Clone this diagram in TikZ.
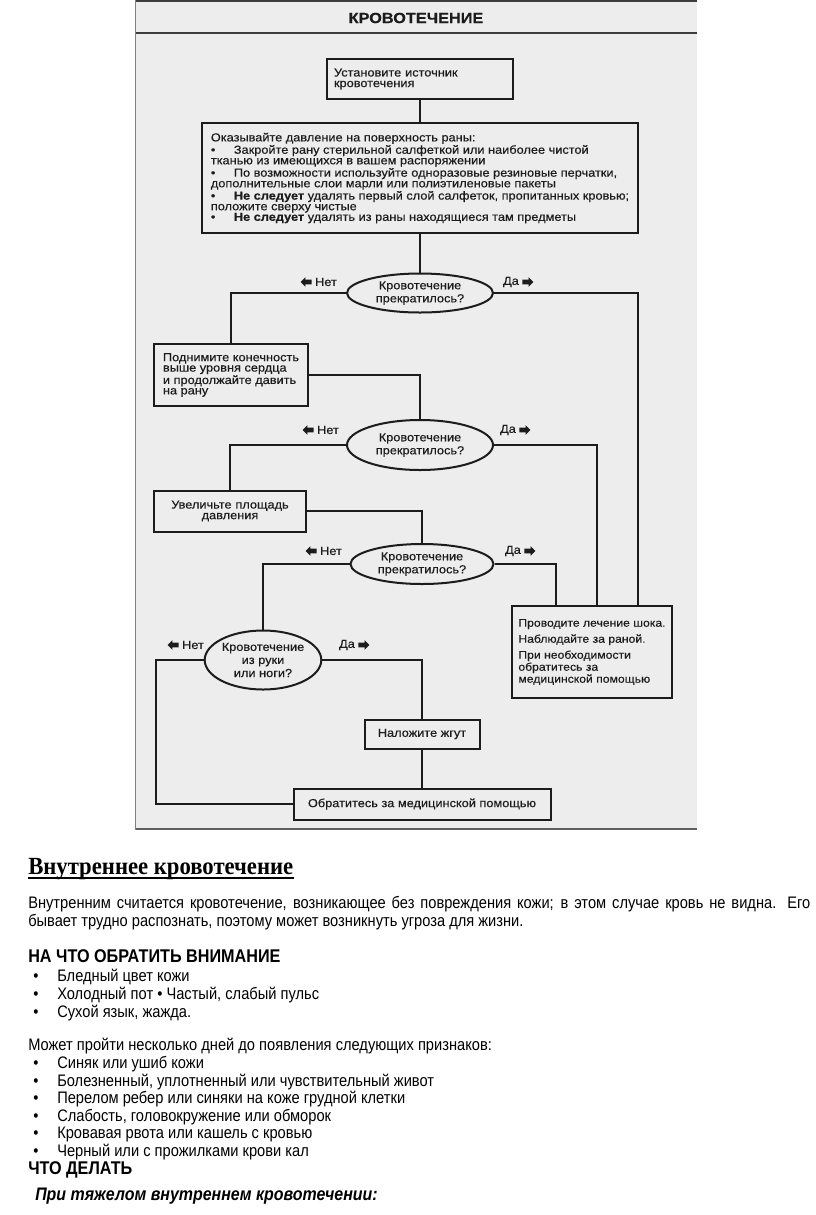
\documentclass[tikz,border=0pt]{standalone}
\usepackage{fontspec}
\setmainfont{Liberation Sans}
\newfontfamily\scanfont[FakeStretch=1.1,FakeBold=0.4]{Liberation Sans}
\newfontfamily\bodyfont[FakeStretch=0.88]{Liberation Sans}
\newfontfamily\headfont[FakeStretch=0.92]{Liberation Serif}
\usetikzlibrary{positioning,shapes.geometric,shapes.arrows}

\definecolor{scanbg}{HTML}{EDEDED}
\definecolor{ink}{HTML}{1C1C1C}
\newdimen\pxd \pxd=0.75pt

\tikzset{
  box/.style={draw=ink, line width=1.5pt, fill=scanbg, text=ink, inner ysep=2pt, align=left},
  ask/.style={ellipse, draw=ink, line width=1.5pt, fill=scanbg, text=ink, inner sep=0pt, align=center,
    font=\scanfont\fontsize{8.7pt}{9.8pt}\selectfont},
  lbl/.style={text=ink, inner sep=0pt},
  tip/.style={single arrow, fill=ink, inner xsep=0pt, inner ysep=2.2\pxd, minimum height=11\pxd,
    single arrow head extend=2.3\pxd, single arrow head indent=0pt},
  tipl/.style={tip, shape border rotate=180},
  link/.style={draw=ink, line width=1.5pt},
  doc/.style={anchor=base west, inner sep=0pt, font=\bodyfont\fontsize{12.5pt}{13.2pt}\selectfont},
  heavy/.style={font=\bodyfont\bfseries\fontsize{13.8pt}{14pt}\selectfont},
}

\begin{document}
\begin{tikzpicture}[x=0.75pt,y=-0.75pt,font=\scanfont\fontsize{8.7pt}{7.95pt}\selectfont]
\useasboundingbox (0,0) rectangle (816,1215);
\fill[white] (0,0) rectangle (816,1215);

% scanned sheet
\fill[scanbg] (135,0) rectangle (697,830);
\draw[ink!85, line width=1.5pt] (135,1) -- (697,1);
\draw[ink!85, line width=1.2pt] (135,33) -- (697,33);
\draw[ink!70, line width=1.2pt] (135,829) -- (697,829);
\draw[gray, line width=0.6pt] (135,0) -- (135,830);
\node[text=ink, font=\scanfont\bfseries\fontsize{11.1pt}{13pt}\selectfont] (title) at (416,18) {КРОВОТЕЧЕНИЕ};

% boxes and questions
\node[box, minimum width=186\pxd, minimum height=40\pxd, text width=172\pxd, inner xsep=7\pxd] (src) at (420,79) {Установите источник\\кровотечения};
\node[box, minimum width=436\pxd, minimum height=110\pxd] (press) at (420,178) {Оказывайте давление на поверхность раны:\\
\makebox[23\pxd][l]{•}Закройте рану стерильной салфеткой или наиболее чистой\\
тканью из имеющихся в вашем распоряжении\\
\makebox[23\pxd][l]{•}По возможности используйте одноразовые резиновые перчатки,\\
дополнительные слои марли или полиэтиленовые пакеты\\
\makebox[23\pxd][l]{•}\textbf{Не следует} удалять первый слой салфеток, пропитанных кровью;\\
положите сверху чистые\\
\makebox[23\pxd][l]{•}\textbf{Не следует} удалять из раны находящиеся там предметы};
\node[ask, minimum width=146\pxd, minimum height=39\pxd] (ask1) at (420,293) {Кровотечение\\прекратилось?};
\node[box, minimum width=154\pxd, minimum height=62\pxd, font=\scanfont\fontsize{8.7pt}{7.8pt}\selectfont] (lift) at (231,375) {Поднимите конечность\\выше уровня сердца\\и продолжайте давить\\на рану};
\node[ask, minimum width=146\pxd, minimum height=50\pxd] (ask2) at (420,445) {Кровотечение\\прекратилось?};
\node[box, align=center, minimum width=152\pxd, minimum height=41\pxd, text width=136\pxd, inner xsep=8\pxd] (widen) at (230,511) {Увеличьте площадь\\давления};
\node[ask, minimum width=143\pxd, minimum height=40\pxd] (ask3) at (422,564) {Кровотечение\\прекратилось?};
\node[ask, minimum width=111\pxd, minimum height=59\pxd] (limb) at (263,660) {Кровотечение\\из руки\\или ноги?};
\node[box, minimum width=160\pxd, minimum height=92\pxd, inner xsep=6\pxd, font=\scanfont\fontsize{8.3pt}{9pt}\selectfont] (shock) at (592,652) {Проводите лечение шока.\\[4\pxd]
Наблюдайте за раной.\\[4\pxd]
При необходимости\\обратитесь за\\медицинской помощью};
\node[box, align=center, minimum width=115\pxd, minimum height=29\pxd] (tq) at (422,734) {Наложите жгут};
\node[box, align=center, minimum width=257\pxd, minimum height=31\pxd] (help) at (422,804) {Обратитесь за медицинской помощью};

% answers
\node[lbl] (no1) at (326,282) {Нет};
\node[lbl] (yes1) at (511,282) {Да};
\node[lbl] (no2) at (328,430) {Нет};
\node[lbl] (yes2) at (508,430) {Да};
\node[lbl] (no3) at (331,551) {Нет};
\node[lbl] (yes3) at (513,551) {Да};
\node[lbl] (no4) at (193,645) {Нет};
\node[lbl] (yes4) at (347,645) {Да};
\foreach \n in {no1,no2,no3,no4} \node[tipl, left=3\pxd of \n] (\n a) {};
\foreach \n in {yes1,yes2,yes3,yes4} \node[tip, right=3\pxd of \n] (\n a) {};

% connectors
\coordinate (r1) at (638,0);
\coordinate (r2) at (597,0);
\coordinate (r3) at (556,0);
\coordinate (l4) at (156,0);
\draw[link] (src.south) -- (press.north);
\draw[link] (press.south) -- (ask1.north);
\draw[link] (ask1.west) -| (lift.north);
\draw[link] (ask1.east) -| (r1 |- shock.north);
\draw[link] (lift.east) -| (ask2.north);
\draw[link] (ask2.west) -| (widen.north);
\draw[link] (ask2.east) -| (r2 |- shock.north);
\draw[link] (widen.east) -| (ask3.north);
\draw[link] (ask3.west) -| (limb.north);
\draw[link] (ask3.east) -| (r3 |- shock.north);
\draw[link] (limb.east) -| (tq.north);
\draw[link] (limb.west) -| (l4 |- help.west) -- (help.west);
\draw[link] (tq.south) -- (help.north);

% text below the scan
\node[doc, font=\headfont\bfseries\fontsize{18.5pt}{20pt}\selectfont] (inner) at (28,874) {Внутреннее кровотечение};
\draw[line width=1.4pt] ([yshift=-3pt]inner.base west) -- ([yshift=-3pt]inner.base east);
\node[doc] (def1) at (28,908) {\makebox[782\pxd][s]{Внутренним считается кровотечение, возникающее без повреждения кожи; в этом случае кровь не видна. Его}};
\node[doc] (def2) at (28,926) {бывает трудно распознать, поэтому может возникнуть угроза для жизни.};
\node[doc, heavy] (watch) at (28,962) {НА ЧТО ОБРАТИТЬ ВНИМАНИЕ};
\foreach \y/\t in {981/Бледный цвет кожи, 999/{Холодный пот • Частый, слабый пульс}, 1017/{Сухой язык, жажда.}} {
  \node[doc] (dot\y) at (33,\y) {•};
  \node[doc] (item\y) at (57,\y) {\t};
}
\node[doc] (later) at (28,1050) {Может пройти несколько дней до появления следующих признаков:};
\foreach \y/\t in {1068/Синяк или ушиб кожи, 1086/{Болезненный, уплотненный или чувствительный живот},
  1103/Перелом ребер или синяки на коже грудной клетки, 1121/{Слабость, головокружение или обморок},
  1138/Кровавая рвота или кашель с кровью, 1156/Черный или с прожилками крови кал} {
  \node[doc] (dot\y) at (33,\y) {•};
  \node[doc] (item\y) at (57,\y) {\t};
}
\node[doc, heavy] (todo) at (28,1174) {ЧТО ДЕЛАТЬ};
\node[doc, font=\bodyfont\bfseries\itshape\fontsize{13.6pt}{14pt}\selectfont] (severe) at (35,1200) {При тяжелом внутреннем кровотечении:};
\end{tikzpicture}
\end{document}
